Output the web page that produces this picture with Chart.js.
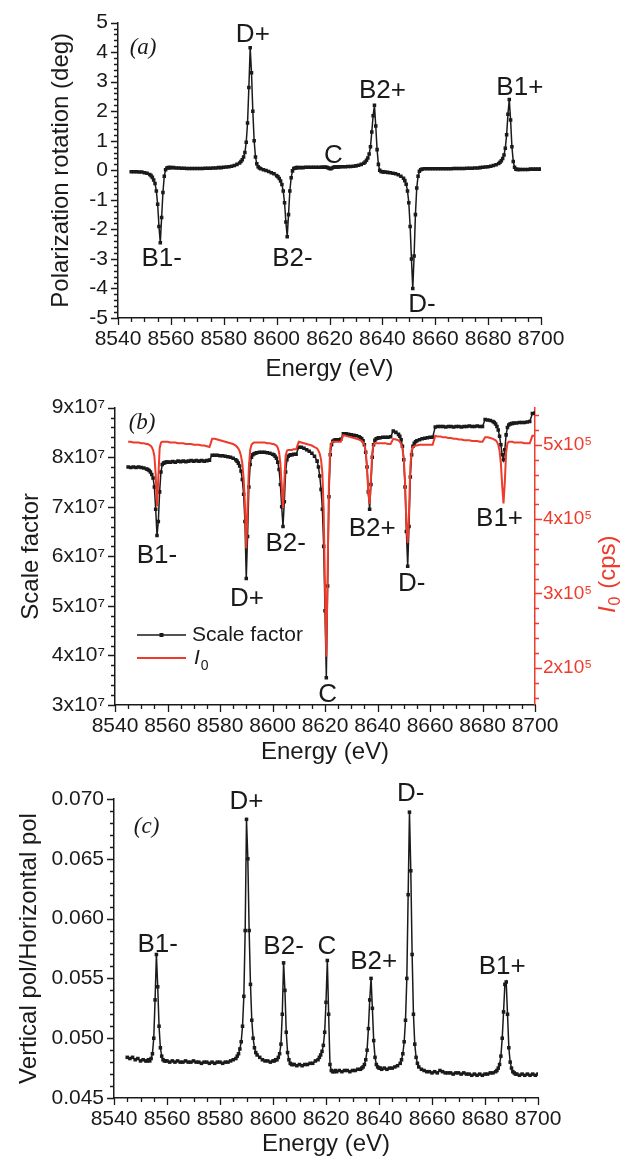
<!DOCTYPE html>
<html>
<head>
<meta charset="utf-8">
<script src="https://cdn.jsdelivr.net/npm/chart.js@4.4.1/dist/chart.umd.min.js"></script>
<style>
  html, body { margin: 0; padding: 0; background: #fff; }
  body { width: 627px; height: 1161px; position: relative; overflow: hidden; }
  canvas { position: absolute; left: 0; }
</style>
</head>
<body>
<canvas id="panelA" width="627" height="385" style="top:0px"></canvas>
<canvas id="panelB" width="627" height="385" style="top:385px"></canvas>
<canvas id="panelC" width="627" height="391" style="top:770px"></canvas>
<script>
// photon energy of each scan point (eV)
const energy = [
  8545, 8546, 8547, 8548, 8549, 8550, 8551, 8552,
  8552.5, 8553, 8553.5, 8554, 8554.5, 8555, 8555.5, 8556, 8556.5, 8557, 8557.5, 8558, 8558.5, 8559, 8559.5,
  8560, 8561, 8562, 8563, 8564, 8565, 8566, 8567, 8568, 8569, 8570, 8571, 8572, 8573, 8574, 8575, 8576, 8577, 8578, 8579, 8580, 8581, 8582, 8583, 8584, 8585,
  8586, 8586.5, 8587, 8587.5, 8588, 8588.5, 8589, 8589.5, 8590, 8590.5, 8591, 8591.5, 8592, 8592.5, 8593, 8593.5, 8594,
  8595, 8596, 8597, 8598, 8599, 8600,
  8600.5, 8601, 8601.5, 8602, 8602.5, 8603, 8603.5, 8604, 8604.5, 8605, 8605.5, 8606, 8606.5, 8607, 8607.5,
  8608, 8609, 8610, 8611, 8612, 8613, 8614, 8615, 8616,
  8617, 8617.5, 8618, 8618.5, 8619, 8619.5, 8620, 8620.5, 8621, 8621.5, 8622, 8622.5, 8623, 8623.5, 8624,
  8625, 8626, 8627, 8628, 8629, 8630, 8631, 8632, 8633,
  8633.5, 8634, 8634.5, 8635, 8635.5, 8636, 8636.5, 8637, 8637.5, 8638, 8638.5, 8639, 8639.5, 8640, 8640.5,
  8641, 8642, 8643, 8644, 8645, 8646, 8647,
  8648, 8648.5, 8649, 8649.5, 8650, 8650.5, 8651, 8651.5, 8652, 8652.5, 8653, 8653.5, 8654, 8654.5, 8655,
  8656, 8657, 8658, 8659, 8660, 8661, 8662, 8663, 8664, 8665, 8666, 8667, 8668, 8669, 8670, 8671, 8672, 8673, 8674, 8675, 8676, 8677, 8678, 8679, 8680, 8681, 8682, 8683, 8684,
  8684.5, 8685, 8685.5, 8686, 8686.5, 8687, 8687.5, 8688, 8688.5, 8689, 8689.5, 8690, 8690.5, 8691, 8691.5,
  8692, 8693, 8694, 8695, 8696, 8697, 8698, 8699, 8700
];

// (a) polarization rotation, deg
const rotation = [
  -0.05, -0.05, -0.05, -0.06, -0.06, -0.08, -0.10, -0.14,
  -0.18, -0.24, -0.33, -0.45, -0.70, -1.15, -1.90, -2.45, -1.60, -0.75, -0.20, 0.02, 0.08, 0.09, 0.09,
  0.09, 0.09, 0.08, 0.08, 0.07, 0.07, 0.06, 0.06, 0.06, 0.06, 0.06, 0.06, 0.06, 0.07, 0.07, 0.07, 0.08, 0.08, 0.09, 0.09, 0.10, 0.11, 0.12, 0.14, 0.16, 0.20,
  0.25, 0.30, 0.36, 0.45, 0.60, 0.95, 1.60, 2.80, 4.15, 3.30, 2.00, 1.00, 0.45, 0.22, 0.12, 0.08, 0.05,
  0.02, -0.01, -0.04, -0.08, -0.12, -0.18,
  -0.22, -0.28, -0.36, -0.48, -0.70, -1.10, -1.75, -2.25, -1.50, -0.70, -0.25, -0.02, 0.06, 0.08, 0.09,
  0.09, 0.09, 0.09, 0.10, 0.10, 0.10, 0.10, 0.10, 0.10,
  0.10, 0.10, 0.10, 0.10, 0.10, 0.08, 0.06, 0.05, 0.08, 0.10, 0.11, 0.11, 0.11, 0.11, 0.12,
  0.12, 0.12, 0.13, 0.13, 0.14, 0.15, 0.17, 0.20, 0.24,
  0.28, 0.34, 0.42, 0.55, 0.80, 1.30, 1.85, 2.20, 1.50, 0.70, 0.20, 0.00, -0.04, -0.05, -0.06,
  -0.06, -0.07, -0.08, -0.10, -0.12, -0.15, -0.20,
  -0.27, -0.35, -0.47, -0.70, -1.10, -1.90, -3.00, -4.00, -2.90, -1.50, -0.60, -0.20, -0.03, 0.02, 0.04,
  0.05, 0.05, 0.05, 0.05, 0.05, 0.05, 0.05, 0.05, 0.05, 0.05, 0.05, 0.06, 0.06, 0.06, 0.06, 0.06, 0.07, 0.07, 0.07, 0.08, 0.08, 0.09, 0.10, 0.11, 0.12, 0.14, 0.16, 0.19, 0.23,
  0.27, 0.32, 0.40, 0.52, 0.75, 1.20, 1.90, 2.40, 1.70, 0.80, 0.30, 0.10, 0.04, 0.03, 0.03,
  0.03, 0.03, 0.03, 0.03, 0.04, 0.04, 0.04, 0.04, 0.04
];

// (b) scale factor, units of 10^7
const scaleFactor = [
  7.80, 7.79, 7.80, 7.79, 7.80, 7.79, 7.78, 7.76,
  7.75, 7.73, 7.70, 7.65, 7.58, 7.40, 6.95, 6.42, 6.70, 7.30, 7.70, 7.85, 7.88, 7.89, 7.90,
  7.90, 7.90, 7.91, 7.90, 7.92, 7.91, 7.92, 7.91, 7.92, 7.93, 7.92, 7.93, 7.92, 7.93, 7.92, 7.93, 7.94, 8.04, 8.04, 8.04, 8.03, 8.03, 8.02, 8.01, 8.00, 7.98,
  7.95, 7.92, 7.88, 7.82, 7.72, 7.55, 7.25, 6.70, 5.55, 6.40, 7.40, 7.85, 8.00, 8.05, 8.07, 8.08, 8.09,
  8.10, 8.10, 8.10, 8.09, 8.08, 8.06,
  8.05, 8.02, 7.98, 7.90, 7.75, 7.45, 7.00, 6.60, 7.10, 7.70, 7.95, 8.02, 8.04, 8.05, 8.05,
  8.06, 8.06, 8.20, 8.20, 8.18, 8.15, 8.12, 8.08, 8.02,
  7.92, 7.80, 7.62, 7.35, 6.95, 6.20, 4.90, 3.55, 5.40, 7.20, 8.05, 8.25, 8.32, 8.34, 8.35,
  8.35, 8.36, 8.47, 8.47, 8.46, 8.45, 8.44, 8.43, 8.41,
  8.39, 8.37, 8.33, 8.25, 8.10, 7.80, 7.30, 6.95, 7.45, 8.00, 8.25, 8.34, 8.37, 8.38, 8.39,
  8.39, 8.40, 8.40, 8.40, 8.41, 8.53, 8.50,
  8.46, 8.42, 8.35, 8.22, 7.95, 7.40, 6.50, 5.80, 6.60, 7.60, 8.05, 8.22, 8.28, 8.31, 8.33,
  8.35, 8.37, 8.38, 8.39, 8.40, 8.40, 8.61, 8.62, 8.62, 8.62, 8.61, 8.62, 8.62, 8.61, 8.62, 8.62, 8.61, 8.62, 8.62, 8.63, 8.62, 8.62, 8.63, 8.62, 8.62, 8.76, 8.75, 8.74, 8.72,
  8.70, 8.67, 8.62, 8.55, 8.42, 8.25, 8.05, 7.95, 8.15, 8.45, 8.60, 8.65, 8.67, 8.68, 8.68,
  8.69, 8.69, 8.70, 8.70, 8.70, 8.71, 8.72, 8.88, 8.89
];

// (b) incident intensity I0, units of 10^5 cps
const i0 = [
  5.04, 5.04, 5.03, 5.03, 5.03, 5.02, 5.02, 5.01,
  5.01, 5.00, 4.99, 4.97, 4.93, 4.85, 4.60, 4.17, 4.55, 4.95, 5.03, 5.04, 5.04, 5.04, 5.04,
  5.04, 5.03, 5.03, 5.03, 5.02, 5.02, 5.02, 5.01, 5.01, 5.01, 5.00, 5.00, 5.00, 4.99, 4.99, 4.98, 4.97, 5.08, 5.08, 5.07, 5.06, 5.05, 5.04, 5.03, 5.02, 5.01,
  4.99, 4.97, 4.95, 4.91, 4.85, 4.75, 4.55, 4.20, 3.61, 4.15, 4.70, 4.93, 5.00, 5.02, 5.03, 5.03, 5.03,
  5.03, 5.03, 5.03, 5.02, 5.02, 5.01,
  5.01, 5.00, 4.99, 4.96, 4.90, 4.75, 4.45, 4.15, 4.50, 4.85, 4.92, 4.93, 4.93, 4.93, 4.93,
  4.94, 4.94, 5.04, 5.03, 5.02, 5.01, 5.00, 4.99, 4.97,
  4.95, 4.92, 4.88, 4.80, 4.62, 4.10, 3.10, 2.15, 3.30, 4.50, 4.95, 5.03, 5.04, 5.04, 5.04,
  5.04, 5.04, 5.13, 5.12, 5.11, 5.10, 5.09, 5.08, 5.07,
  5.06, 5.05, 5.03, 5.00, 4.92, 4.70, 4.35, 4.20, 4.55, 4.90, 5.00, 5.02, 5.02, 5.02, 5.02,
  5.02, 5.02, 5.02, 5.01, 5.01, 5.08, 5.07,
  5.06, 5.04, 5.01, 4.95, 4.82, 4.50, 3.95, 3.68, 4.10, 4.70, 4.92, 4.97, 4.98, 4.99, 4.99,
  5.00, 5.00, 5.00, 5.00, 5.00, 5.00, 5.12, 5.11, 5.11, 5.10, 5.10, 5.09, 5.09, 5.08, 5.08, 5.07, 5.07, 5.06, 5.06, 5.06, 5.05, 5.05, 5.05, 5.04, 5.04, 5.10, 5.10, 5.09, 5.08,
  5.07, 5.06, 5.04, 5.00, 4.92, 4.75, 4.45, 4.21, 4.50, 4.90, 5.02, 5.04, 5.04, 5.04, 5.04,
  5.03, 5.03, 5.03, 5.03, 5.02, 5.02, 5.02, 5.12, 5.12
];

// (c) vertical / horizontal polarization ratio
const polRatio = [
  0.0484, 0.0483, 0.0484, 0.0482, 0.0483, 0.0481, 0.0482, 0.0481,
  0.0481, 0.0482, 0.0481, 0.0483, 0.0487, 0.0500, 0.0532, 0.0570, 0.0543, 0.0510, 0.0492, 0.0485, 0.0482, 0.0481, 0.0481,
  0.0481, 0.0480, 0.0481, 0.0480, 0.0481, 0.0480, 0.0480, 0.0481, 0.0480, 0.0480, 0.0481, 0.0480, 0.0480, 0.0479, 0.0480, 0.0480, 0.0479, 0.0480, 0.0479, 0.0480, 0.0480, 0.0479, 0.0480, 0.0480, 0.0481, 0.0482,
  0.0483, 0.0485, 0.0487, 0.0491, 0.0497, 0.0510, 0.0535, 0.0590, 0.0683, 0.0650, 0.0590, 0.0545, 0.0515, 0.0500, 0.0492, 0.0488, 0.0486,
  0.0484, 0.0482, 0.0481, 0.0481, 0.0480, 0.0481,
  0.0481, 0.0482, 0.0482, 0.0484, 0.0487, 0.0495, 0.0520, 0.0563, 0.0540, 0.0505, 0.0488, 0.0482, 0.0479, 0.0478, 0.0478,
  0.0478, 0.0477, 0.0478, 0.0477, 0.0478, 0.0478, 0.0479, 0.0479, 0.0481,
  0.0482, 0.0484, 0.0486, 0.0489, 0.0494, 0.0505, 0.0530, 0.0565, 0.0520, 0.0478, 0.0473, 0.0472, 0.0472, 0.0473, 0.0472,
  0.0473, 0.0472, 0.0473, 0.0473, 0.0472, 0.0473, 0.0473, 0.0474, 0.0474,
  0.0475, 0.0476, 0.0478, 0.0482, 0.0490, 0.0508, 0.0532, 0.0550, 0.0525, 0.0498, 0.0484, 0.0478, 0.0476, 0.0475, 0.0475,
  0.0474, 0.0475, 0.0474, 0.0475, 0.0475, 0.0476, 0.0477,
  0.0479, 0.0482, 0.0487, 0.0497, 0.0515, 0.0550, 0.0620, 0.0689, 0.0640, 0.0570, 0.0520, 0.0495, 0.0484, 0.0479, 0.0476,
  0.0474, 0.0473, 0.0472, 0.0472, 0.0471, 0.0472, 0.0471, 0.0473, 0.0472, 0.0471, 0.0471, 0.0471, 0.0470, 0.0471, 0.0471, 0.0470, 0.0471, 0.0470, 0.0470, 0.0469, 0.0470, 0.0469, 0.0470, 0.0469, 0.0470, 0.0470, 0.0471, 0.0471, 0.0472,
  0.0473, 0.0475, 0.0478, 0.0485, 0.0500, 0.0522, 0.0545, 0.0547, 0.0520, 0.0492, 0.0480, 0.0475, 0.0472, 0.0471, 0.0470,
  0.0470, 0.0469, 0.0470, 0.0469, 0.0470, 0.0469, 0.0470, 0.0469, 0.0470
];

// tick values
const energyTicks = [8540, 8560, 8580, 8600, 8620, 8640, 8660, 8680, 8700];
const rotationTicks = [-5, -4, -3, -2, -1, 0, 1, 2, 3, 4, 5];
const scaleTicks = [3, 4, 5, 6, 7, 8, 9];
const i0Ticks = [2, 3, 4, 5];
const ratioTicks = [0.045, 0.050, 0.055, 0.060, 0.065, 0.070];

// peak names: [text, energy, value]
const peaksA = [['B1-', 8556.5, -3.0], ['D+', 8591, 4.6], ['B2-', 8606, -3.0], ['C', 8621.5, 0.5],
                ['B2+', 8640, 2.7], ['D-', 8655, -4.55], ['B1+', 8692, 2.8]];
const peaksB = [['B1-', 8556, 6.0], ['D+', 8590.3, 5.15], ['B2-', 8605, 6.25], ['C', 8621, 3.2],
                ['B2+', 8638, 6.55], ['D-', 8653, 5.45], ['B1+', 8686.5, 6.75]];
const peaksC = [['B1-', 8556.5, 0.0578], ['D+', 8590, 0.0698], ['B2-', 8604, 0.0576], ['C', 8620.3, 0.0576],
                ['B2+', 8638, 0.0564], ['D-', 8652, 0.0704], ['B1+', 8686.5, 0.0560]];

const SANS = '"Liberation Sans", Arial, Helvetica, sans-serif';
const SERIF = '"Liberation Serif", "Times New Roman", serif';
const INK = '#1a1a1a';
const RED = '#ee3b2b';

function pts(ys) {
  return energy.map((e, i) => ({ x: e, y: ys[i] }));
}

function fixedTicks(list) {
  return s => { s.ticks = list.map(v => ({ value: v })); };
}

// major + minor tick marks, drawn outward on every axis
const tickMarks = {
  id: 'tickMarks',
  afterDraw(chart, args, opts) {
    const ctx = chart.ctx;
    ctx.save();
    ctx.lineWidth = 1.3;
    for (const [id, [major, minor]] of Object.entries(opts.steps)) {
      const s = chart.scales[id];
      ctx.strokeStyle = s.options.border.color;
      const n0 = Math.ceil(s.min / minor - 1e-6);
      const n1 = Math.floor(s.max / minor + 1e-6);
      ctx.beginPath();
      for (let n = n0; n <= n1; n++) {
        const v = n * minor;
        const r = v / major;
        const len = Math.abs(r - Math.round(r)) < 1e-6 ? 7 : 4;
        const p = Math.round(s.getPixelForValue(v)) + 0.5;
        if (s.position === 'bottom') {
          ctx.moveTo(p, s.top); ctx.lineTo(p, s.top + len);
        } else if (s.position === 'left') {
          ctx.moveTo(s.right, p); ctx.lineTo(s.right - len, p);
        } else {
          ctx.moveTo(s.left, p); ctx.lineTo(s.left + len, p);
        }
      }
      ctx.stroke();
    }
    ctx.restore();
  }
};

// peak names and the panel letter
const peakLabels = {
  id: 'peakLabels',
  afterDatasetsDraw(chart, args, opts) {
    const { ctx, scales } = chart;
    const ys = scales.y;
    ctx.save();
    ctx.fillStyle = INK;
    ctx.textAlign = 'center';
    ctx.textBaseline = 'middle';
    ctx.font = '26px ' + SANS;
    for (const [text, e, v] of opts.items) {
      ctx.fillText(text, scales.x.getPixelForValue(e), ys.getPixelForValue(v));
    }
    const [tag, te, tv] = opts.tag;
    ctx.font = 'italic 23px ' + SERIF;
    ctx.fillText(tag, scales.x.getPixelForValue(te), ys.getPixelForValue(tv));
    ctx.restore();
  }
};

// legend box of panel (b)
const sfLegend = {
  id: 'sfLegend',
  afterDraw(chart) {
    const { ctx, chartArea: a } = chart;
    const x0 = a.left + 22, x1 = a.left + 71;
    const yA = a.bottom - 70, yB = a.bottom - 47;
    ctx.save();
    ctx.strokeStyle = INK;
    ctx.lineWidth = 1.5;
    ctx.beginPath(); ctx.moveTo(x0, yA); ctx.lineTo(x1, yA); ctx.stroke();
    ctx.fillStyle = INK;
    ctx.fillRect((x0 + x1) / 2 - 2, yA - 2, 4, 4);
    ctx.strokeStyle = RED;
    ctx.lineWidth = 2;
    ctx.beginPath(); ctx.moveTo(x0, yB); ctx.lineTo(x1, yB); ctx.stroke();
    ctx.textBaseline = 'middle';
    ctx.textAlign = 'left';
    ctx.font = '21px ' + SANS;
    ctx.fillText('Scale factor', x1 + 6, yA);
    ctx.font = 'italic 21px ' + SANS;
    ctx.fillText('I', x1 + 8, yB);
    const w = ctx.measureText('I').width;
    ctx.font = '14px ' + SANS;
    ctx.fillText('0', x1 + 9 + w, yB + 8);
    ctx.restore();
  }
};

// right axis title, I0 (cps) with subscript
const i0Title = {
  id: 'i0Title',
  afterDraw(chart) {
    const { ctx } = chart;
    const s = chart.scales.y2;
    ctx.save();
    ctx.translate(s.right - 19, (s.top + s.bottom) / 2 + 18);
    ctx.rotate(-Math.PI / 2);
    ctx.fillStyle = RED;
    ctx.textBaseline = 'middle';
    ctx.textAlign = 'left';
    ctx.font = 'italic 24px ' + SANS;
    const wI = ctx.measureText('I').width;
    ctx.font = '16px ' + SANS;
    const w0 = ctx.measureText('0').width;
    ctx.font = '24px ' + SANS;
    const wC = ctx.measureText(' (cps)').width;
    let x = -(wI + w0 + 2 + wC) / 2;
    ctx.font = 'italic 24px ' + SANS;
    ctx.fillText('I', x, 0);
    x += wI + 1;
    ctx.font = '16px ' + SANS;
    ctx.fillText('0', x, 8);
    x += w0 + 1;
    ctx.font = '24px ' + SANS;
    ctx.fillText(' (cps)', x, 0);
    ctx.restore();
  }
};

const tickFont = { family: SANS, size: 21 };
const titleFont = { family: SANS, size: 24 };

function energyAxis(height, titlePad) {
  return {
    type: 'linear', position: 'bottom', min: 8540, max: 8700,
    afterBuildTicks: fixedTicks(energyTicks),
    afterFit: s => { s.height = height; },
    grid: { drawOnChartArea: false, drawTicks: false },
    border: { color: INK, width: 1.5 },
    ticks: { color: INK, font: tickFont, padding: 9, maxRotation: 0, autoSkip: false, callback: v => String(v) },
    title: { display: true, text: 'Energy (eV)', color: INK, font: titleFont, padding: { top: 0, bottom: titlePad } }
  };
}

function valueAxis(min, max, list, width, fmt, title, titlePad) {
  return {
    type: 'linear', position: 'left', min, max,
    afterBuildTicks: fixedTicks(list),
    afterFit: s => { s.width = width; },
    grid: { drawOnChartArea: false, drawTicks: false },
    border: { color: INK, width: 1.5 },
    ticks: { color: INK, font: tickFont, padding: 10, callback: fmt },
    title: { display: true, text: title, color: INK, font: titleFont, padding: { top: titlePad, bottom: 0 } }
  };
}

const blackLine = {
  borderColor: INK, borderWidth: 1.5, tension: 0, fill: false,
  pointStyle: 'rect', pointRadius: 2.5, pointBackgroundColor: INK, pointBorderWidth: 0
};

const quiet = { legend: { display: false }, tooltip: { enabled: false } };

// (a) polarization rotation
new Chart(document.getElementById('panelA'), {
  type: 'line',
  data: { datasets: [{ label: 'Rotation', data: pts(rotation), ...blackLine }] },
  options: {
    animation: false, responsive: false,
    layout: { padding: { top: 17, right: 86, left: 0, bottom: 0 } },
    scales: {
      x: energyAxis(67, 1),
      y: valueAxis(-5, 5, rotationTicks, 118, v => String(v), 'Polarization rotation (deg)', 47)
    },
    plugins: {
      ...quiet,
      tickMarks: { steps: { x: [20, 5], y: [1, 0.2] } },
      peakLabels: { items: peaksA, tag: ['(a)', 8549.5, 4.15] }
    }
  },
  plugins: [tickMarks, peakLabels]
});

// (b) scale factor and I0
const yRight = {
  type: 'linear', position: 'right', min: 1.5, max: 5.5,
  afterBuildTicks: fixedTicks(i0Ticks),
  afterFit: s => { s.width = 92; },
  grid: { drawOnChartArea: false, drawTicks: false },
  border: { color: RED, width: 1.5 },
  ticks: { color: RED, font: { family: SANS, size: 19 }, padding: 8, callback: v => v + 'x10\u2075' }
};

new Chart(document.getElementById('panelB'), {
  type: 'line',
  data: {
    datasets: [
      { label: 'I0', data: pts(i0), yAxisID: 'y2', borderColor: RED, borderWidth: 2, pointRadius: 0, tension: 0, order: 0 },
      { label: 'Scale factor', data: pts(scaleFactor), yAxisID: 'y', ...blackLine, order: 1 }
    ]
  },
  options: {
    animation: false, responsive: false,
    layout: { padding: { top: 20, right: 0, left: 0, bottom: 0 } },
    scales: {
      x: energyAxis(65, 3),
      y: valueAxis(3, 9, scaleTicks, 115, v => v + 'x10\u2077', 'Scale factor', 17),
      y2: yRight
    },
    plugins: {
      ...quiet,
      tickMarks: { steps: { x: [20, 5], y: [1, 0.2], y2: [1, 0.2] } },
      peakLabels: { items: peaksB, tag: ['(b)', 8550.3, 8.7] }
    }
  },
  plugins: [tickMarks, peakLabels, sfLegend, i0Title]
});

// (c) vertical/horizontal polarization ratio
new Chart(document.getElementById('panelC'), {
  type: 'line',
  data: { datasets: [{ label: 'Ratio', data: pts(polRatio), ...blackLine }] },
  options: {
    animation: false, responsive: false,
    layout: { padding: { top: 29, right: 89, left: 0, bottom: 0 } },
    scales: {
      x: energyAxis(63, 2),
      y: valueAxis(0.045, 0.070, ratioTicks, 114, v => v.toFixed(3), 'Vertical pol/Horizontal pol', 15)
    },
    plugins: {
      ...quiet,
      tickMarks: { steps: { x: [20, 5], y: [0.005, 0.001] } },
      peakLabels: { items: peaksC, tag: ['(c)', 8552.3, 0.0677] }
    }
  },
  plugins: [tickMarks, peakLabels]
});
</script>
</body>
</html>
